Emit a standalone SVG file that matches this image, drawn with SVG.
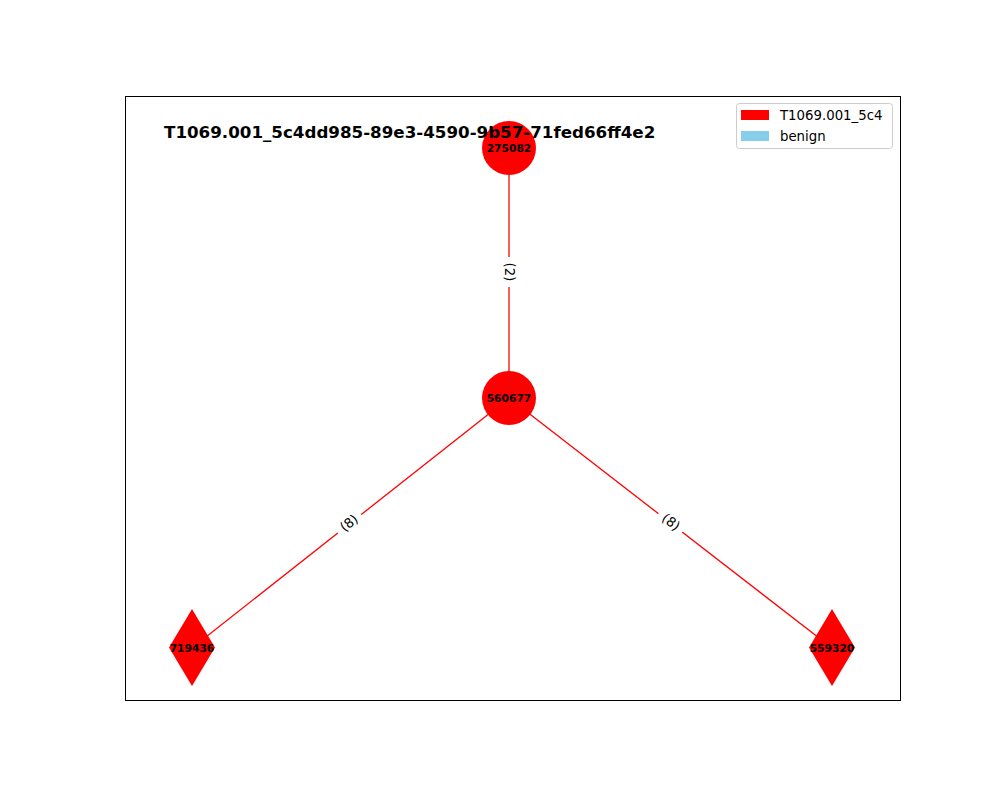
<svg xmlns="http://www.w3.org/2000/svg" width="1000" height="800" viewBox="0 0 1000 800">
  <style>
    .edge { stroke: #ff0000; stroke-width: 1.3; fill: none; }
    .node { fill: #ff0000; }
    .nlabel { font-family: "DejaVu Sans", sans-serif; font-size: 10.7px; font-weight: bold; fill: #000; text-anchor: middle; dominant-baseline: central; }
    .elabel { font-family: "DejaVu Sans", sans-serif; font-size: 13.3px; fill: #000; text-anchor: middle; dominant-baseline: central; }
    .title { font-family: "DejaVu Sans", sans-serif; font-size: 16.7px; font-weight: bold; fill: #000; }
    .legend { font-family: "DejaVu Sans", sans-serif; font-size: 13.3px; fill: #000; }
  </style>
  <rect x="0" y="0" width="1000" height="800" fill="#ffffff"/>
  <!-- axes frame -->
  <rect x="125.5" y="96.5" width="775" height="604" fill="none" stroke="#000" stroke-width="1"/>

  <!-- connectors -->
  <g id="edges">
    <line class="edge" x1="509" y1="148" x2="509" y2="398"/>
    <line class="edge" x1="509" y1="398" x2="192" y2="648"/>
    <line class="edge" x1="509" y1="398" x2="832" y2="648"/>
    <g transform="translate(509,272) rotate(90)">
      <rect x="-15" y="-10" width="30" height="20" rx="4" fill="#ffffff"/>
      <text class="elabel" x="0" y="0">(2)</text>
    </g>
    <g transform="translate(349,523) rotate(-38.3)">
      <rect x="-15" y="-10" width="30" height="20" rx="4" fill="#ffffff"/>
      <text class="elabel" x="0" y="0">(8)</text>
    </g>
    <g transform="translate(671,522) rotate(37.7)">
      <rect x="-15" y="-10" width="30" height="20" rx="4" fill="#ffffff"/>
      <text class="elabel" x="0" y="0">(8)</text>
    </g>
  </g>

  <!-- nodes -->
  <g id="node-275082">
    <circle class="node" cx="509" cy="148" r="27"/>
    <text class="nlabel" x="509" y="148">275082</text>
  </g>
  <g id="node-560677">
    <circle class="node" cx="509" cy="398" r="27"/>
    <text class="nlabel" x="509" y="398">560677</text>
  </g>
  <g id="node-719436">
    <polygon class="node" points="192,609 215,647.5 192,686 169,647.5"/>
    <text class="nlabel" x="192" y="648">719436</text>
  </g>
  <g id="node-559320">
    <polygon class="node" points="832,609 855,647.5 832,686 809,647.5"/>
    <text class="nlabel" x="832" y="648">559320</text>
  </g>

  <!-- title -->
  <text class="title" x="164" y="138">T1069.001_5c4dd985-89e3-4590-9b57-71fed66ff4e2</text>

  <!-- legend -->
  <g id="legend">
    <rect x="736.5" y="103.5" width="156" height="45" rx="3" fill="#ffffff" fill-opacity="0.8" stroke="#cccccc" stroke-width="1"/>
    <rect x="741" y="110" width="28" height="10" fill="#ff0000"/>
    <text class="legend" x="780" y="120">T1069.001_5c4</text>
    <rect x="741" y="131" width="28" height="10" fill="#87ceeb"/>
    <text class="legend" x="780" y="141">benign</text>
  </g>
</svg>
